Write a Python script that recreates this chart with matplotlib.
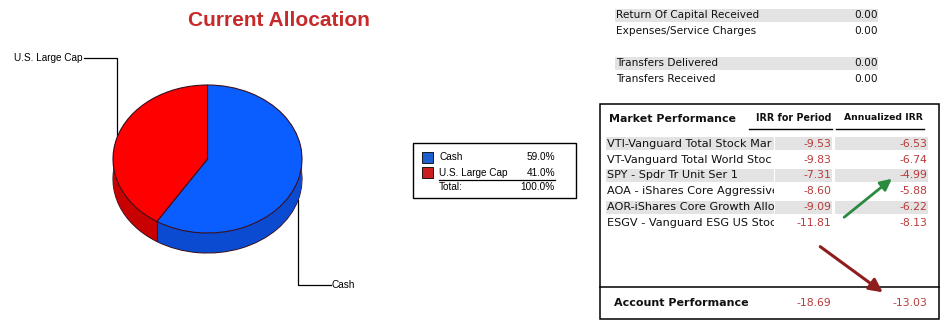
import matplotlib
matplotlib.use('Agg')
import matplotlib.pyplot as plt
from matplotlib.patches import Rectangle
import numpy as np

# ---------------- data ----------------
alloc_labels = ['Cash', 'U.S. Large Cap']
alloc_pct = [59.0, 41.0]
alloc_total = 100.0

summary_labels = ['Return Of Capital Received', 'Expenses/Service Charges', None,
                  'Transfers Delivered', 'Transfers Received']
summary_values = [0.00, 0.00, None, 0.00, 0.00]

funds = ['VTI-Vanguard Total Stock Mar',
         'VT-Vanguard Total World Stoc',
         'SPY - Spdr Tr Unit Ser 1',
         'AOA - iShares Core Aggressive',
         'AOR-iShares Core Growth Alloc',
         'ESGV - Vanguard ESG US Stoc']
irr_period = [-9.53, -9.83, -7.31, -8.60, -9.09, -11.81]
irr_annual = [-6.53, -6.74, -4.99, -5.88, -6.22, -8.13]
account_label = 'Account Performance'
account_period = -18.69
account_annual = -13.03

# ---------------- layout ----------------
W, H = 947, 328
fig = plt.figure(figsize=(W / 100, H / 100), dpi=100)
fig.patch.set_facecolor('white')
bg = fig.add_axes([0, 0, 1, 1])
bg.set_xlim(0, W)
bg.set_ylim(H, 0)
bg.axis('off')


def px_axes(x0, y0, x1, y1):
    return fig.add_axes([x0 / W, 1 - y1 / H, (x1 - x0) / W, (y1 - y0) / H])


TXT = 'DejaVu Sans'
ARIAL = 'Liberation Sans'
VAL_RED = '#B83A3A'

# ---------------- title ----------------
bg.text(279, 21, 'Current Allocation', ha='center', va='center', fontsize=15,
        fontweight='bold', color='#C62A2A', family=ARIAL)

# ---------------- 3D pie ----------------
cx, cy, rx, ry, depth_px = 207.5, 159.0, 94.5, 74.0, 20.0
d = depth_px / ry
top_colors = ['#0A5EFF', '#FF0000']
side_colors = ['#0A4BD2', '#C80000']
edge = '#3A1020'

pax = px_axes(cx - 1.1 * rx, cy - 1.1 * ry, cx + 1.1 * rx, cy + 1.45 * ry)
layers = np.linspace(d, 0, 30)[:-1]
for i, k in enumerate(layers):
    pax.pie(alloc_pct, colors=side_colors, startangle=90, counterclock=False,
            center=(0, -k), radius=1,
            wedgeprops=dict(linewidth=0.8 if i == 0 else 0,
                            edgecolor=edge))
pax.pie(alloc_pct, colors=top_colors, startangle=90, counterclock=False,
        center=(0, 0), radius=1, wedgeprops=dict(linewidth=0.8, edgecolor=edge))

# seams on the side at slice boundaries that face the viewer
bounds = 90 - np.cumsum([0] + alloc_pct) / alloc_total * 360
for b in bounds:
    x, y = np.cos(np.radians(b)), np.sin(np.radians(b))
    if y < 0:
        pax.plot([x, x], [y, y - d], color=edge, lw=0.8)
pax.set_aspect('auto')
pax.set_xlim(-1.1, 1.1)
pax.set_ylim(-1.45, 1.1)
pax.axis('off')

# leader lines from slice mid angles
mids = 90 - (np.cumsum(alloc_pct) - np.array(alloc_pct) / 2) / alloc_total * 360
label_pos = {'Cash': (332, 285), 'U.S. Large Cap': (83, 58)}
for lab, m in zip(alloc_labels, mids):
    x = cx + rx * np.cos(np.radians(m))
    y = cy - ry * np.sin(np.radians(m))
    if np.sin(np.radians(m)) < 0:
        y += depth_px
    lx, ly = label_pos[lab]
    if lx > x:
        bg.plot([x, x, lx - 1], [y, ly, ly], color='black', lw=0.9)
        bg.text(lx, ly, lab, ha='left', va='center', fontsize=7.2, family=ARIAL)
    else:
        bg.plot([x, x, lx + 1], [y, ly, ly], color='black', lw=0.9)
        bg.text(lx, ly, lab, ha='right', va='center', fontsize=7.2, family=ARIAL)

# ---------------- legend ----------------
bg.add_patch(Rectangle((413, 143), 163, 55, fill=False, ec='black', lw=1))
leg_colors = ['#1E5FD2', '#CC1E1E']
for i, (lab, p) in enumerate(zip(alloc_labels, alloc_pct)):
    yy = 157.5 + 15 * i
    bg.add_patch(Rectangle((422, yy - 5.5), 11, 11, fc=leg_colors[i], ec='black', lw=0.6))
    bg.text(439, yy, lab, ha='left', va='center', fontsize=7.2, family=ARIAL)
    bg.text(555, yy, f'{p:.1f}%', ha='right', va='center', fontsize=7.2, family=ARIAL)
bg.plot([439, 555], [179.5, 179.5], color='black', lw=0.9)
bg.text(439, 187.5, 'Total:', ha='left', va='center', fontsize=7.2, family=ARIAL)
bg.text(555, 187.5, f'{alloc_total:.1f}%', ha='right', va='center', fontsize=7.2, family=ARIAL)

# ---------------- summary table ----------------
band = '#E3E3E3'
shade_rows = [0, 3]
for i, (lab, v) in enumerate(zip(summary_labels, summary_values)):
    yy = 15 + 16 * i
    if lab is None:
        continue
    if i in shade_rows:
        bg.add_patch(Rectangle((615, yy - 6.5), 263, 13.5, fc=band, ec='none'))
    bg.text(616, yy, lab, ha='left', va='center', fontsize=7.6, family=TXT, color='#111111')
    bg.text(878, yy, f'{v:.2f}', ha='right', va='center', fontsize=7.6, family=TXT, color='#111111')

# ---------------- market performance ----------------
bg.add_patch(Rectangle((599.5, 104), 339.5, 215, fill=False, ec='black', lw=1.1))
bg.plot([599.5, 939], [287, 287], color='black', lw=1.1)
bg.text(609, 118.5, 'Market Performance', ha='left', va='center', fontsize=7.9,
        fontweight='bold', family=TXT, color='#111111')
bg.text(831, 118, 'IRR for Period', ha='right', va='center', fontsize=6.9,
        fontweight='bold', family=TXT, color='#111111')
bg.text(923, 118, 'Annualized IRR', ha='right', va='center', fontsize=6.7,
        fontweight='bold', family=TXT, color='#111111')
bg.plot([749, 832], [128.5, 128.5], color='black', lw=1)
bg.plot([836, 924], [128.5, 128.5], color='black', lw=1)

# name cells: a clipping axes so long names are cut at the cell edge
nx0, nx1, ny0, ny1 = 606, 773.5, 132, 232
nax = px_axes(nx0, ny0, nx1, ny1)
nax.set_xlim(nx0, nx1)
nax.set_ylim(ny1, ny0)
nax.axis('off')
nax.patch.set_visible(False)

for i, (f, a, b) in enumerate(zip(funds, irr_period, irr_annual)):
    yy = 143.7 + 15.9 * i
    if i % 2 == 0:
        bg.add_patch(Rectangle((606, yy - 6.3), 168, 12.6, fc=band, ec='none'))
        bg.add_patch(Rectangle((775, yy - 6.3), 57, 12.6, fc=band, ec='none'))
        bg.add_patch(Rectangle((835, yy - 6.3), 93, 12.6, fc=band, ec='none'))
    nax.text(607, yy, f, ha='left', va='center', fontsize=8.1, family=TXT,
             color='#111111', clip_on=True)
    bg.text(831, yy, f'{a:.2f}', ha='right', va='center', fontsize=7.8, family=TXT, color=VAL_RED)
    bg.text(927, yy, f'{b:.2f}', ha='right', va='center', fontsize=7.8, family=TXT, color=VAL_RED)

bg.text(614, 303, account_label, ha='left', va='center', fontsize=8,
        fontweight='bold', family=TXT, color='#111111')
bg.text(831, 303, f'{account_period:.2f}', ha='right', va='center', fontsize=7.8, family=TXT, color=VAL_RED)
bg.text(927, 303, f'{account_annual:.2f}', ha='right', va='center', fontsize=7.8, family=TXT, color=VAL_RED)

# ---------------- annotation arrows ----------------
bg.annotate('', xy=(894, 177), xytext=(842, 219),
            arrowprops=dict(arrowstyle='-|>', color='#2A8A3E', lw=2, mutation_scale=17))
bg.annotate('', xy=(885, 294), xytext=(818, 245),
            arrowprops=dict(arrowstyle='-|>', color='#8E1E1E', lw=2.2, mutation_scale=20))

fig.savefig('out.png', dpi=100, facecolor='white')
